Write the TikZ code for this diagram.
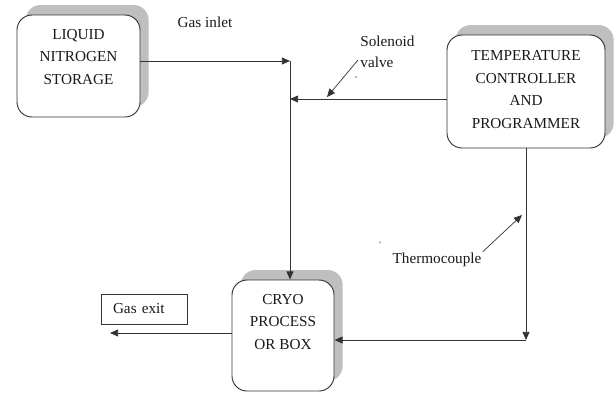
\documentclass[tikz,border=0pt]{standalone}
\usepackage{fontspec}
\setmainfont{Liberation Serif}
\usetikzlibrary{arrows.meta, shadows, calc}

\begin{document}
\begin{tikzpicture}[
    every node/.style={font=\fontsize{13}{19.5}\selectfont, text=black!90},
    unitbox/.style={rectangle, draw=black!80, rounded corners=0.45cm, line width=0.8pt,
                    fill=white, align=center,
                    drop shadow={shadow xshift=0.26cm, shadow yshift=0.3cm, fill=black!25, opacity=1}},
    boxtext/.style={align=center, inner sep=0pt},
    tagbox/.style={rectangle, draw=black!80, line width=0.6pt, fill=white, align=left,
                   text width=1.86cm, inner xsep=0.36cm, minimum height=0.9cm},
    lbl/.style={align=left, inner sep=1pt, font=\fontsize{13}{17.5}\selectfont},
    arrow/.style={-{Triangle[length=7pt, width=6pt]}, line width=0.8pt, draw=black!80},
    line/.style={line width=0.8pt, draw=black!80}
]
\useasboundingbox (0,0) rectangle (18.42,-11.82);

% === Units ===
\node[unitbox, minimum width=3.69cm, minimum height=3.06cm] (ln) at (2.355,-1.98) {};
\node[boxtext] (lntext) at (2.355,-1.71) {LIQUID\\NITROGEN\\STORAGE};

\node[unitbox, minimum width=4.74cm, minimum height=3.39cm] (tc) at (15.78,-2.745) {};
\node[boxtext] (tctext) at (15.78,-2.685) {TEMPERATURE\\CONTROLLER\\AND\\PROGRAMMER};

\node[unitbox, minimum width=3.06cm, minimum height=3.33cm] (cryo) at (8.49,-10.065) {};
\node[boxtext] (cryotext) at (8.49,-9.66) {CRYO\\PROCESS\\OR BOX};

\node[tagbox] (exit) at (4.32,-9.27) {Gas exit};

% === Gas line ===
\coordinate (inlet) at (8.7,-1.83);
\coordinate (valve) at (8.7,-2.97);
\coordinate (exitpt) at (3.3,-9.99);

\node[lbl] (gasin) at (6.15,-0.66) {Gas inlet};

\draw[arrow] (ln.east |- inlet) -- (inlet);
\draw[arrow] (inlet) -- (inlet |- cryo.north);
\draw[arrow] (cryo.west |- exitpt) -- (exitpt);

% === Control lines ===
\draw[arrow] (tc.west |- valve) -- (valve);

\node[lbl, anchor=west] (sol) at (10.77,-1.56) {Solenoid\\valve};
\coordinate (solto) at (9.81,-2.91);
\draw[arrow, line width=0.6pt] ([xshift=-0.03cm, yshift=-0.24cm]sol.west) -- (solto);
\node[inner sep=0pt, font=\scriptsize] (soltick) at (10.68,-2.34) {-};

\coordinate (tcout) at (15.78,-10.2);
\draw[arrow] (tc.south) -- (tcout);
\draw[arrow] (tcout) -- (cryo.east |- tcout);

\node[lbl] (thermo) at (13.11,-7.8) {Thermocouple};
\coordinate (tcpt) at (15.66,-6.45);
\draw[arrow, line width=0.6pt] (thermo.north east) -- (tcpt);
\node[inner sep=0pt, font=\scriptsize] (thtick) at (11.4,-7.35) {'};

\end{tikzpicture}
\end{document}
